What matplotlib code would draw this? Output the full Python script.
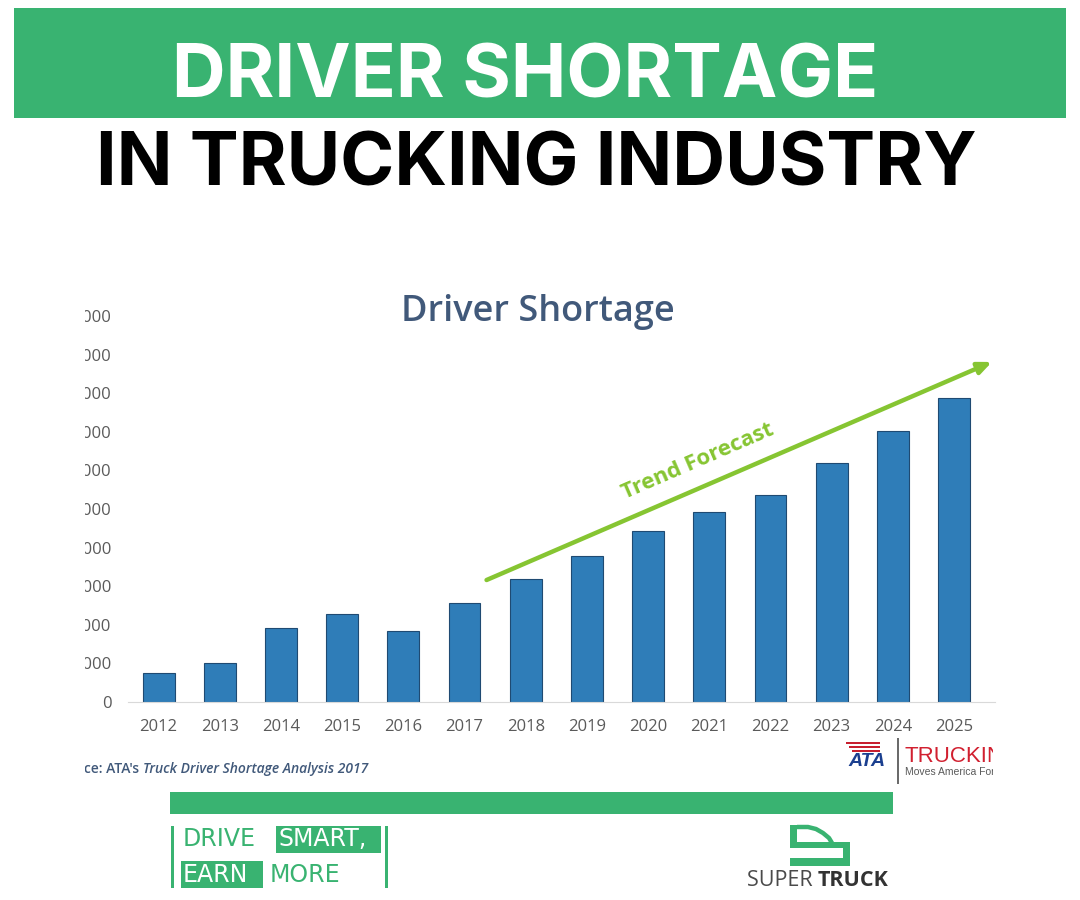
"""Driver shortage in trucking industry: bar chart poster, 1080x900."""
import matplotlib.pyplot as plt
from matplotlib.patches import Rectangle
from matplotlib.ticker import FuncFormatter

# data
years = [2012, 2013, 2014, 2015, 2016, 2017, 2018,
         2019, 2020, 2021, 2022, 2023, 2024, 2025]
shortage = [15000, 20200, 38400, 45600, 36800, 51200, 63800,
            75600, 88600, 98400, 107200, 123800, 140400, 157600]
y_ticks = list(range(0, 200001, 20000))
trend_start = (5.36, 63200)
trend_end = (13.62, 176200)
trend_label_at = (8.81, 124400)

GREEN = "#39b371"
BAR = "#2f7db8"
TREND = "#86c532"
TITLE_C = "#41597a"
TICK_C = "#5a5a5a"

W, H = 1080, 900
fig = plt.figure(figsize=(W / 100, H / 100), dpi=100)
fig.patch.set_facecolor("white")


def fx(px):
    return px / W


def fy(py):
    return 1 - py / H


def box(x0, y0, x1, y1, color, z=1):
    fig.add_artist(Rectangle((fx(x0), fy(y1)), fx(x1) - fx(x0), fy(y0) - fy(y1),
                             transform=fig.transFigure, facecolor=color,
                             edgecolor="none", zorder=z))


# ---- cabecera
box(14, 8, 1066, 118, GREEN)
fig.text(fx(525), fy(70), "DRIVER SHORTAGE", color="white", fontsize=53.5,
         fontweight="bold", family="Inter", ha="center", va="center_baseline")
fig.text(fx(536), fy(158), "IN TRUCKING INDUSTRY", color="black", fontsize=52.7,
         fontweight="bold", family="Inter", ha="center", va="center_baseline")

# ---- gráfico
ax = fig.add_axes([fx(128), fy(702), fx(995) - fx(128), fy(316) - fy(702)])
xs = list(range(len(years)))
ax.bar(xs, shortage, width=0.52, color=BAR, edgecolor="#1f4a72", linewidth=0.8, zorder=2)
ax.set_xlim(-0.5, 13.67)
ax.set_ylim(0, 200000)
ax.set_xticks(xs)
ax.set_xticklabels([str(y) for y in years])
ax.set_yticks(y_ticks)
ax.yaxis.set_major_formatter(FuncFormatter(lambda v, _: f"{int(v):,}"))
for s in ("top", "right", "left"):
    ax.spines[s].set_visible(False)
ax.spines["bottom"].set_color("#d9d9d9")
ax.tick_params(length=0, colors=TICK_C, labelsize=12)
ax.tick_params(axis="y", pad=12)
ax.tick_params(axis="x", pad=12)
for lab in ax.get_xticklabels() + ax.get_yticklabels():
    lab.set_family("Open Sans")

ax.annotate("", xy=trend_end, xytext=trend_start,
            arrowprops=dict(arrowstyle="-|>,head_length=0.8,head_width=0.35",
                            color=TREND, lw=3.2, shrinkA=0, shrinkB=0),
            annotation_clip=False, zorder=3)
ax.text(*trend_label_at, "Trend Forecast", color=TREND, fontsize=16,
        fontweight="bold", family="Open Sans", rotation=23.4,
        rotation_mode="anchor", ha="center", va="center")

fig.text(fx(538), fy(312), "Driver Shortage", color=TITLE_C, fontsize=26,
         fontweight="semibold", family="Open Sans", ha="center", va="center")

# fuente
fig.text(fx(143), fy(769), "Source: ATA's ", color=TITLE_C, fontsize=10,
         fontweight="semibold", family="Open Sans", ha="right", va="center")
fig.text(fx(143), fy(769), "Truck Driver Shortage Analysis 2017", color=TITLE_C,
         fontsize=10, fontweight="semibold", style="italic", family="Open Sans",
         ha="left", va="center")

# logo ATA
for i, yy in enumerate([742, 746, 750]):
    box(846 + i * 3, yy, 880, yy + 2, "#c8202f", z=2)
fig.text(fx(867), fy(762), "ATA", color="#1b3f8f", fontsize=14, fontweight="bold",
         family="Liberation Sans", ha="center", va="center", style="italic")
box(897, 738, 899, 784, "#6b6b6b", z=2)
fig.text(fx(905), fy(757), "TRUCKING", color="#d12030", fontsize=16,
         family="Liberation Sans", ha="left", va="center")
fig.text(fx(905), fy(772), "Moves America Forward", color="#5a5a5a", fontsize=7.5,
         family="Liberation Sans", ha="left", va="center")

# recorte de la captura original
box(0, 290, 84.5, 790, "white", z=10)
box(993, 735, 1080, 790, "white", z=10)

# ---- pie
box(170, 792, 893, 814, GREEN)
box(171, 826, 174, 888, GREEN)
box(385, 826, 388, 888, GREEN)
box(276, 826, 381, 853, GREEN)
box(181, 861, 263, 888, GREEN)
slogan = dict(fontsize=17, family="DejaVu Sans", va="center", ha="left")
fig.text(fx(183), fy(839), "DRIVE", color=GREEN, **slogan)
fig.text(fx(278), fy(839), "SMART,", color="white", **slogan)
fig.text(fx(183), fy(875), "EARN", color="white", **slogan)
fig.text(fx(270), fy(875), "MORE", color=GREEN, **slogan)

# logo Super Truck
box(790, 825, 797, 848, GREEN, z=2)
box(790, 842, 850, 848, GREEN, z=2)
box(843, 842, 850, 866, GREEN, z=2)
box(790, 858, 850, 866, GREEN, z=2)
cab_x = [797, 808, 816, 823, 829, 832]
cab_y = [827, 827, 829, 833, 838, 843]
fig.add_artist(plt.Line2D([fx(v) for v in cab_x], [fy(v) for v in cab_y],
                          transform=fig.transFigure, color=GREEN, lw=3.2,
                          solid_capstyle="butt"))
fig.text(fx(818), fy(880), "SUPER ", color="#4a4a4a", fontsize=15.5, family="Open Sans",
         ha="right", va="center")
fig.text(fx(818), fy(880), "TRUCK", color="#333333", fontsize=15.5, family="Open Sans",
         fontweight="bold", ha="left", va="center")

fig.savefig("out.png", dpi=100)
